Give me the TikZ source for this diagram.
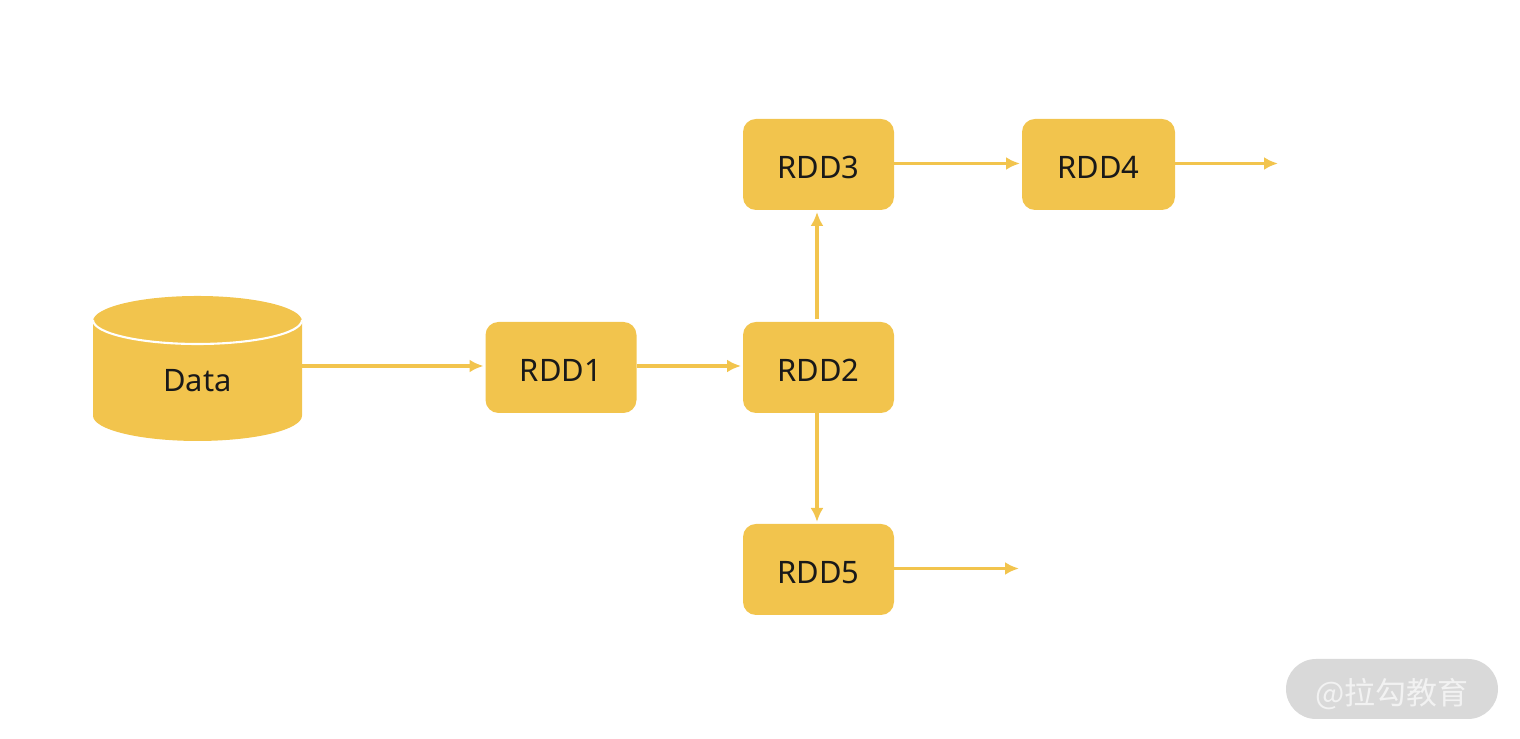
\documentclass[tikz,border=0pt]{standalone}
\usepackage{fontspec}
\setmainfont{Noto Sans}
\newfontfamily\cjkfont{Noto Sans CJK SC}
\usetikzlibrary{arrows.meta, shapes.geometric}
\definecolor{rddyellow}{HTML}{F2C44D}

\begin{document}
\begin{tikzpicture}[
		every node/.style={font=\fontsize{8.8}{10}\selectfont, text=black!90, outer sep=0pt},
		% Standard arrow
		arrow/.style={-{Latex[length=1.4mm, width=1.3mm]}, rddyellow, line width=1pt, shorten >=0.2mm},
		% Dataset box
		rdd/.style={fill=rddyellow, rounded corners=1.3mm, minimum width=1.51cm, minimum height=0.91cm,
			inner sep=0pt, text height=8.2pt, text depth=0pt},
		% Data source drum
		store/.style={cylinder, shape border rotate=90, aspect=0.74, fill=rddyellow, inner sep=0pt,
			minimum width=2.09cm, minimum height=1.45cm, text height=6.5pt, text depth=0.6pt},
		% Small offset for arrows
		parallel shift/.style={transform canvas={yshift=#1}},
		side shift/.style={transform canvas={xshift=#1}}
		]
		\useasboundingbox (0,0) rectangle (15.2,7.39);
		
		% === NODES ===
		
		\node[store] (data) at (1.975,3.575) {Data};
		\draw[white, line width=0.6pt] (0.93,4.19) arc[start angle=180, end angle=360, x radius=1.045cm, y radius=0.24cm];
		
		\node[rdd] (rdd1) at (5.61,3.715) {RDD1};
		\node[rdd] (rdd2) at (8.185,3.715) {RDD2};
		\node[rdd] (rdd3) at (8.185,5.745) {RDD3};
		\node[rdd, minimum width=1.53cm] (rdd4) at (10.985,5.745) {RDD4};
		\node[rdd] (rdd5) at (8.185,1.695) {RDD5};
		
		% Open ends
		\coordinate (rdd4out) at (12.78,5.745);
		\coordinate (rdd5out) at (10.19,1.695);
		
		% === ARROWS ===
		
		\draw[arrow, parallel shift=0.15mm] (data.east |- rdd1.west) -- (rdd1.west);
		\draw[arrow, parallel shift=0.15mm] (rdd1) -- (rdd2);
		\draw[arrow, side shift=-0.15mm, shorten <=0.25mm] (rdd2) -- (rdd3);
		\draw[arrow, side shift=-0.15mm] (rdd2) -- (rdd5);
		\draw[arrow, parallel shift=0.1mm] (rdd3) -- (rdd4);
		\draw[arrow, parallel shift=0.1mm, shorten >=0pt] (rdd4) -- (rdd4out);
		\draw[arrow, parallel shift=0.1mm, shorten >=0pt] (rdd5) -- (rdd5out);
		
		% === BADGE ===
		
		\node[fill=black!15, rounded corners=3mm, minimum width=2.12cm, minimum height=0.6cm, inner sep=0pt,
			text=black!5, text height=8.6pt, text depth=0pt, font=\cjkfont\fontsize{8.8}{10}\selectfont] (badge) at (13.92,0.5) {@拉勾教育};
		
	\end{tikzpicture}
\end{document}
